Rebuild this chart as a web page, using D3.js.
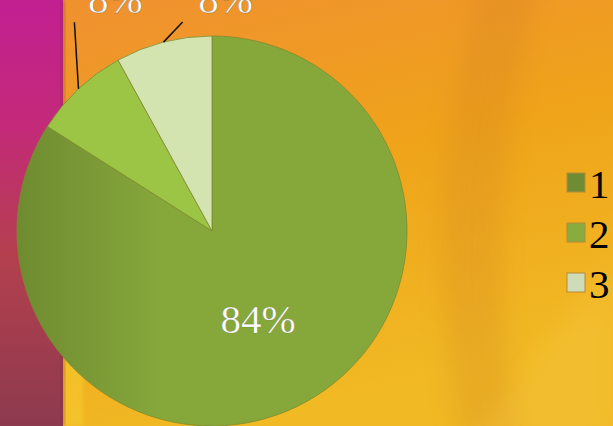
<!DOCTYPE html>
<html>
<head>
<meta charset="utf-8">
<script src="https://cdn.jsdelivr.net/npm/d3@7"></script>
<style>
    body { margin: 0; overflow: hidden; }
    svg { display: block; }
    .lbl { font-family: "Liberation Serif", "Times New Roman", serif; }
</style>
</head>
<body>
<script>
var categories = ["1", "2", "3"];
var values = [84, 8, 8];
var colors = ["#86a83b", "#9dc545", "#d3e4b0"];
var legendColors = ["#6f8c34", "#88ad3e", "#cfdcb8"];

// where Excel put the outside labels (angle in degrees from 12 o'clock, radius)
var labelAnchor = [null, {a: 326.6, r: 250, dx: 41}, {a: 352, r: 211, dx: 43}];

function draw_pie() {

    var svg = d3.select("body").append("svg").attr("width", 613).attr("height", 426),
        width = +svg.attr("width"),
        height = +svg.attr("height");

    var defs = svg.append("defs");

    // background
    var bg = defs.append("linearGradient").attr("id", "bg")
        .attr("x1", 0).attr("y1", 0).attr("x2", 0.35).attr("y2", 1);
    bg.append("stop").attr("offset", 0).attr("stop-color", "#f08f32");
    bg.append("stop").attr("offset", 0.5).attr("stop-color", "#efa31a");
    bg.append("stop").attr("offset", 1).attr("stop-color", "#f1b924");

    var strip = defs.append("linearGradient").attr("id", "strip")
        .attr("x1", 0).attr("y1", 0).attr("x2", 0).attr("y2", 1);
    strip.append("stop").attr("offset", 0).attr("stop-color", "#c21f92");
    strip.append("stop").attr("offset", 0.3).attr("stop-color", "#c32a78");
    strip.append("stop").attr("offset", 0.6).attr("stop-color", "#b4404e");
    strip.append("stop").attr("offset", 1).attr("stop-color", "#8d3a4e");

    var blur = defs.append("filter").attr("id", "soft")
        .attr("x", -0.5).attr("y", -0.5).attr("width", 2).attr("height", 2);
    blur.append("feGaussianBlur").attr("stdDeviation", 12);

    var edge = defs.append("filter").attr("id", "edge");
    edge.append("feGaussianBlur").attr("stdDeviation", 2);

    svg.append("rect").attr("width", width).attr("height", height).attr("fill", "url(#bg)");

    // soft swooshes in the wallpaper
    svg.append("path")
        .attr("d", "M480,-20 C440,120 425,260 460,440 L520,440 C490,280 500,140 540,-20 Z")
        .attr("fill", "#c97a20").attr("opacity", 0.22).attr("filter", "url(#soft)");
    svg.append("path")
        .attr("d", "M613,260 C560,330 520,380 470,440 L613,440 Z")
        .attr("fill", "#f5c848").attr("opacity", 0.3).attr("filter", "url(#soft)");
    svg.append("rect").attr("x", 63).attr("y", 330).attr("width", 20).attr("height", 96)
        .attr("fill", "#f8cf30").attr("opacity", 0.5).attr("filter", "url(#edge)");

    svg.append("rect").attr("x", 0).attr("y", 0).attr("width", 63).attr("height", height)
        .attr("fill", "url(#strip)");
    svg.append("rect").attr("x", 61).attr("y", 0).attr("width", 4).attr("height", height)
        .attr("fill", "#7a2a40").attr("opacity", 0.35).attr("filter", "url(#edge)");

    // pie
    var cx = 212, cy = 231, radius = 195;

    var shade = defs.append("linearGradient").attr("id", "shade1")
        .attr("gradientUnits", "userSpaceOnUse")
        .attr("x1", -radius).attr("y1", 0).attr("x2", -radius * 0.25).attr("y2", 0);
    shade.append("stop").attr("offset", 0).attr("stop-color", "#6f8b31");
    shade.append("stop").attr("offset", 1).attr("stop-color", "#86a83b");

    var pie = d3.pie().sort(null).value(function (d) { return d; });
    var arc = d3.arc().innerRadius(0).outerRadius(radius);
    var arcs = pie(values);

    var g = svg.append("g").attr("transform", "translate(" + cx + "," + cy + ")");
    var total = d3.sum(values);

    g.selectAll(".slice")
        .data(arcs)
        .enter().append("path")
        .attr("class", "slice")
        .attr("d", arc)
        .attr("fill", function (d, i) {
            return i === 0 ? "url(#shade1)" : colors[i];
        })
        .attr("stroke", "#7d8a2e")
        .attr("stroke-width", 0.8);

    // leader lines + labels
    arcs.forEach(function (d, i) {
        var pct = Math.round(values[i] / total * 100) + "%";
        var mid = (d.startAngle + d.endAngle) / 2;
        if (!labelAnchor[i]) {
            var c = arc.centroid(d);
            g.append("text").attr("class", "lbl")
                .attr("x", c[0] - 1).attr("y", c[1] + 17)
                .attr("text-anchor", "middle")
                .attr("font-size", 41)
                .attr("fill", "#ffffff")
                .attr("stroke", "rgba(60,60,20,0.3)").attr("stroke-width", 0.7)
                .text(pct);
            return;
        }
        var la = labelAnchor[i].a * Math.PI / 180;
        var x0 = radius * Math.sin(mid), y0 = -radius * Math.cos(mid);
        var x1 = labelAnchor[i].r * Math.sin(la), y1 = -labelAnchor[i].r * Math.cos(la);
        g.append("line")
            .attr("x1", x0).attr("y1", y0).attr("x2", x1).attr("y2", y1)
            .attr("stroke", "#111").attr("stroke-width", 1.5);
        g.append("text").attr("class", "lbl")
            .attr("x", x1 + labelAnchor[i].dx).attr("y", y1 - 9)
            .attr("text-anchor", "middle")
            .attr("font-size", 41)
            .attr("fill", "#ffffff")
            .attr("stroke", "rgba(60,60,20,0.35)").attr("stroke-width", 0.8)
            .text(pct);
    });

    // legend
    var y = d3.scaleBand().domain(categories).range([158, 308]);

    var leg = svg.selectAll(".leg")
        .data(categories)
        .enter().append("g")
        .attr("class", "leg")
        .attr("transform", function (d) {
            return "translate(567," + y(d) + ")";
        });

    leg.append("rect")
        .attr("x", 0).attr("y", 15)
        .attr("width", 18).attr("height", 19)
        .attr("fill", function (d, i) { return legendColors[i]; })
        .attr("stroke", "#b38a3a").attr("stroke-width", 1);

    leg.append("text").attr("class", "lbl")
        .attr("x", 22).attr("y", 40)
        .attr("font-size", 41)
        .attr("fill", "#000")
        .text(function (d) { return d; });
}

draw_pie();
</script>
</body>
</html>
